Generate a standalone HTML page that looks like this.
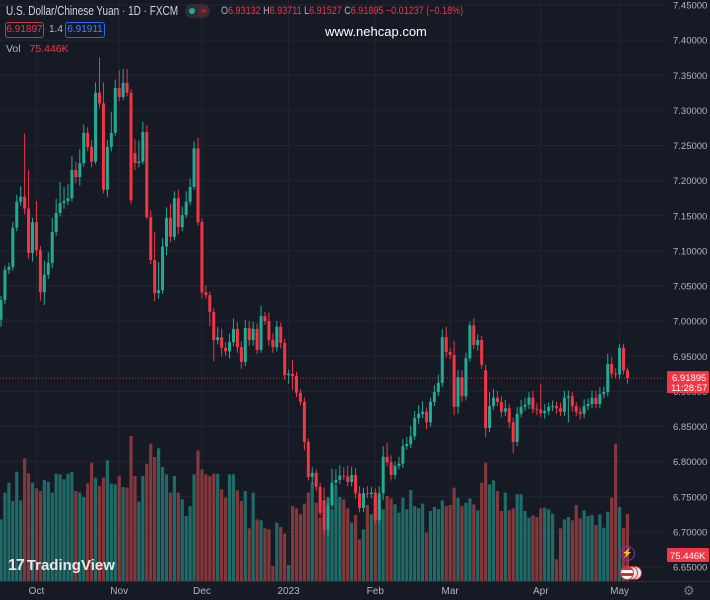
<!DOCTYPE html>
<html><head><meta charset="utf-8"><style>
html,body{margin:0;padding:0;background:#161a25;}
#wrap{position:relative;width:710px;height:600px;overflow:hidden;background:#161a25;font-family:"Liberation Sans",sans-serif;}
svg{position:absolute;left:0;top:0;}
.hdr{position:absolute;white-space:nowrap;}
</style></head><body>
<div id="wrap">
<svg id="chart" width="710" height="600"></svg>
<div class="hdr" style="left:6px;top:4px;font-size:12.5px;color:#d1d4dc;transform:scaleX(0.8);transform-origin:left top;">U.S. Dollar/Chinese Yuan · 1D · FXCM</div>
<div class="hdr" style="left:185px;top:4px;width:25px;height:14px;border-radius:7px;background:#2a2e39;"><span style="position:absolute;left:4px;top:4px;width:6px;height:6px;border-radius:3px;background:#22ab94;"></span><span style="position:absolute;left:13px;top:0;width:11px;height:14px;border-radius:0 7px 7px 0;background:#4a2630;color:#f23645;font-size:9px;line-height:14px;text-align:center;">≈</span></div>
<div class="hdr" style="left:221px;top:5px;font-size:11px;color:#f23645;transform:scaleX(0.82);transform-origin:left top;"><span style="color:#b2b5be">O</span>6.93132 <span style="color:#b2b5be">H</span>6.93711 <span style="color:#b2b5be">L</span>6.91527 <span style="color:#b2b5be">C</span>6.91895 −0.01237 (−0.18%)</div>
<div class="hdr" style="left:5px;top:22px;width:37px;height:14px;border:1px solid #c9363f;border-radius:3px;color:#f23645;font-size:10px;line-height:14px;text-align:center;">6.91897</div>
<div class="hdr" style="left:49px;top:24px;font-size:10px;color:#b2b5be;">1.4</div>
<div class="hdr" style="left:65px;top:22px;width:38px;height:14px;border:1px solid #2962ff;border-radius:3px;color:#4f7dff;font-size:10px;line-height:14px;text-align:center;">6.91911</div>
<div class="hdr" style="left:325px;top:24px;font-size:13px;color:#ffffff;">www.nehcap.com</div>
<div class="hdr" style="left:6px;top:43px;font-size:10.5px;color:#b2b5be;">Vol <span style="color:#f23645;margin-left:6px;">75.446K</span></div>
<div class="hdr" style="left:8px;top:557px;font-size:15px;font-weight:bold;color:#e8e8e8;"><span style="font-size:16px;letter-spacing:-1px;margin-right:3px;">17</span>TradingView</div>
<div class="hdr" style="left:620px;top:546px;width:13px;height:13px;border:1.5px solid #9c27b0;border-radius:8px;color:#b65ce0;font-size:9px;line-height:13px;text-align:center;">⚡</div>
<div class="hdr" style="left:628px;top:566px;width:12px;height:12px;border:1.5px solid #d13a46;border-radius:8px;background:#f3e6e6;"></div>
<div class="hdr" style="left:624px;top:566px;width:12px;height:12px;border:1.5px solid #d13a46;border-radius:8px;background:#f3e6e6;"></div>
<div class="hdr" style="left:620px;top:566px;width:12px;height:12px;border:1.5px solid #d13a46;border-radius:8px;background:linear-gradient(#c33 0 25%,#fff 25% 50%,#c33 50% 75%,#fff 75%);"></div>
<div class="hdr" style="left:683px;top:583px;font-size:13px;color:#787b86;">⚙</div>
</div>
<script>
const opens=[7.002,7.030,7.073,7.077,7.133,7.170,7.177,7.160,7.097,7.141,
7.101,7.041,7.066,7.083,7.127,7.154,7.168,7.171,7.175,7.215,
7.205,7.225,7.268,7.248,7.227,7.325,7.310,7.187,7.248,7.268,
7.332,7.319,7.339,7.325,7.239,7.225,7.227,7.269,7.148,7.087,
7.040,7.044,7.106,7.147,7.120,7.175,7.134,7.151,7.170,7.191,
7.246,7.141,7.041,7.037,7.013,6.973,6.977,6.962,6.957,6.970,
6.989,6.963,6.942,6.990,6.973,6.989,6.959,7.007,7.000,6.973,
6.963,6.992,6.969,6.923,6.925,6.922,6.898,6.885,6.828,6.778,
6.784,6.764,6.745,6.703,6.738,6.770,6.774,6.780,6.779,6.771,
6.781,6.755,6.734,6.755,6.754,6.756,6.717,6.755,6.807,6.799,
6.781,6.794,6.797,6.822,6.825,6.836,6.862,6.868,6.871,6.856,
6.885,6.899,6.912,6.977,6.956,6.952,6.878,6.920,6.893,6.947,
6.994,6.966,6.973,6.930,6.848,6.879,6.891,6.885,6.871,6.876,
6.856,6.828,6.868,6.878,6.881,6.891,6.875,6.874,6.869,6.872,
6.878,6.879,6.876,6.871,6.891,6.893,6.879,6.871,6.868,6.879,
6.882,6.891,6.882,6.896,6.899,6.939,6.925,6.924,6.962,6.930];
const closes=[7.030,7.073,7.077,7.133,7.170,7.177,7.160,7.097,7.141,7.101,
7.041,7.066,7.083,7.127,7.154,7.168,7.171,7.175,7.215,7.205,
7.225,7.268,7.248,7.227,7.325,7.310,7.187,7.248,7.268,7.332,
7.319,7.339,7.325,7.172,7.225,7.227,7.269,7.148,7.087,7.040,
7.044,7.106,7.147,7.120,7.175,7.134,7.151,7.170,7.191,7.246,
7.141,7.041,7.037,7.013,6.973,6.977,6.962,6.957,6.970,6.989,
6.963,6.942,6.990,6.973,6.989,6.959,7.007,7.000,6.973,6.963,
6.992,6.969,6.923,6.925,6.922,6.898,6.885,6.828,6.778,6.784,
6.764,6.727,6.703,6.738,6.770,6.774,6.780,6.779,6.771,6.781,
6.755,6.734,6.755,6.754,6.756,6.717,6.755,6.807,6.799,6.781,
6.794,6.797,6.822,6.825,6.836,6.862,6.868,6.871,6.856,6.885,
6.899,6.912,6.977,6.956,6.952,6.878,6.920,6.893,6.947,6.994,
6.966,6.973,6.938,6.848,6.879,6.891,6.885,6.871,6.876,6.856,
6.828,6.868,6.878,6.881,6.891,6.875,6.874,6.869,6.872,6.878,
6.879,6.876,6.871,6.891,6.893,6.879,6.871,6.868,6.879,6.882,
6.891,6.882,6.896,6.899,6.939,6.925,6.924,6.962,6.930,6.919];
const wickUp=[.006,.006,.006,.008,.01,.015,.09,.055,.006,.03,
.006,.02,.015,.02,.02,.03,.02,.02,.02,.012,
.02,.012,.008,.01,.015,.05,.03,.01,.03,.012,
.025,.02,.02,.005,.02,.03,.015,.01,.01,.04,
.04,.012,.015,.02,.01,.012,.012,.015,.012,.01,
.015,.005,.01,.005,.005,.015,.012,.008,.012,.015,
.01,.008,.012,.01,.01,.008,.015,.006,.012,.01,
.008,.006,.006,.006,.02,.006,.005,.006,.005,.008,
.005,.006,.018,.01,.02,.015,.015,.012,.015,.012,
.01,.01,.008,.01,.008,.006,.01,.015,.02,.01,
.006,.01,.01,.01,.015,.01,.012,.015,.006,.006,
.01,.012,.012,.015,.006,.02,.01,.01,.008,.005,
.01,.008,.006,.008,.02,.012,.01,.008,.012,.006,
.006,.01,.01,.01,.008,.01,.008,.037,.01,.006,
.008,.006,.008,.01,.008,.006,.006,.006,.01,.008,
.01,.01,.01,.008,.015,.01,.008,.005,.006,.004];
const wickDn=[.01,.006,.006,.005,.005,.006,.008,.008,.012,.008,
.012,.018,.006,.008,.006,.005,.008,.006,.005,.008,
.012,.005,.006,.008,.004,.006,.005,.01,.006,.004,
.006,.004,.005,.005,.01,.006,.004,.003,.006,.012,
.008,.005,.012,.008,.005,.01,.006,.004,.005,.004,
.005,.008,.005,.02,.03,.006,.012,.006,.01,.006,
.008,.01,.006,.008,.008,.006,.004,.005,.008,.008,
.006,.008,.006,.012,.02,.006,.005,.012,.005,.01,
.006,.005,.008,.01,.005,.006,.006,.005,.006,.006,
.008,.006,.006,.006,.006,.006,.005,.01,.006,.008,
.006,.005,.006,.005,.006,.005,.008,.006,.01,.006,
.006,.006,.006,.008,.006,.012,.01,.008,.006,.004,
.006,.008,.006,.013,.006,.005,.006,.008,.006,.008,
.016,.006,.005,.006,.006,.006,.008,.006,.008,.006,
.006,.008,.006,.006,.035,.008,.006,.008,.006,.006,
.006,.006,.006,.006,.006,.006,.006,.006,.006,.008];
const volumes=[69.4,99.5,110.7,90.1,123.1,90.8,138.1,121.2,110.7,104.3,
101.3,113.7,111.5,99.5,120.8,120.1,114.5,120.8,123.1,101.3,
99.5,94.6,110.0,133.2,116.3,107.0,116.3,135.9,109.6,108.8,
118.2,105.8,105.1,163.3,118.2,89.3,118.2,132.1,154.6,139.6,
149.4,128.4,120.1,99.5,118.2,99.5,91.9,73.2,84.4,120.1,
147.1,125.7,120.1,118.2,120.8,120.8,103.2,93.8,120.1,120.1,
102.1,90.1,101.3,59.3,99.5,69.4,68.3,59.3,58.2,16.9,
65.7,60.8,53.3,18.0,84.4,81.8,75.1,87.1,99.5,110.7,
88.2,71.3,58.2,94.6,80.7,107.0,94.6,91.9,81.8,65.7,
74.3,46.9,58.2,85.6,75.1,95.7,90.1,80.7,95.7,93.1,
86.3,76.9,93.8,80.7,102.5,84.4,81.8,87.1,54.4,78.8,
83.3,80.7,90.8,84.4,85.6,105.1,93.8,84.4,88.2,93.1,
86.3,79.6,110.7,133.2,108.8,113.3,101.3,78.8,99.5,79.6,
81.8,97.6,97.6,78.8,71.3,73.9,72.1,81.8,82.6,80.7,
75.8,24.4,59.3,69.4,72.1,68.3,85.6,70.6,79.6,73.2,
74.3,63.1,75.1,60.0,78.1,93.8,154.6,83.3,60.0,75.446];
const priceTicks=[7.45,7.40,7.35,7.30,7.25,7.20,7.15,7.10,7.05,7.00,6.95,6.90,6.85,6.80,6.75,6.70,6.65];
const monthLabels=["Oct","Nov","Dec","2023","Feb","Mar","Apr","May"];
const monthIndex=[9,30,51,73,95,114,137,157];
const lastPrice=6.91895;

const NS="http://www.w3.org/2000/svg";
const svg=document.getElementById('chart');
const PLOT_W=664, AXIS_Y=581;
function yP(p){return 5+(7.45-p)*702.5;}
function xI(i){return 1+i*3.94;}
function yV(v){return AXIS_Y-v/1.126;}
function mk(tag,attrs,parent){const e=document.createElementNS(NS,tag);for(const k in attrs)e.setAttribute(k,attrs[k]);(parent||svg).appendChild(e);return e;}

const grid=mk('g',{});


priceTicks.forEach(p=>{const l=mk('line',{x1:0,x2:PLOT_W,y1:yP(p),y2:yP(p),stroke:'#232632','stroke-width':1},grid);

});
monthIndex.forEach(i=>{const l=mk('line',{x1:xI(i),x2:xI(i),y1:0,y2:AXIS_Y,stroke:'#232632','stroke-width':1},grid);

});

const vg=mk('g',{});


volumes.forEach((v,i)=>{const up=closes[i]>=opens[i];
const r=mk('rect',{x:xI(i)-1.6,width:3.2,y:yV(v),height:AXIS_Y-yV(v),fill:up?'#1f6b68':'#84383c'},vg);

});

const cg=mk('g',{});


closes.forEach((c,i)=>{const o=opens[i];const up=c>=o;const col=up?'#22ab94':'#f23645';
const hi=Math.max(o,c)+wickUp[i], lo=Math.min(o,c)-wickDn[i];
const x=xI(i);
const w=mk('line',{x1:x,x2:x,y1:yP(hi),y2:yP(lo),stroke:col,'stroke-width':1},cg);


const top=yP(Math.max(o,c)),bot=yP(Math.min(o,c));
const b=mk('rect',{x:x-1.5,width:3,y:top,height:Math.max(1,bot-top),fill:col},cg);

});

const pl=mk('line',{x1:0,x2:PLOT_W,y1:yP(lastPrice),y2:yP(lastPrice),stroke:'#f23645','stroke-width':1,'stroke-dasharray':'1,2','opacity':0.8});



const ax=mk('g',{'font-family':'Liberation Sans, sans-serif','font-size':'9.5','fill':'#b2b5be'});


priceTicks.forEach(p=>{const t=mk('text',{x:673,y:yP(p)+3.5},ax);t.textContent=p.toFixed(5);

});
const plb=mk('rect',{x:667,y:yP(lastPrice)-7,width:42,height:22,fill:'#f23645',rx:1});


const plt=mk('text',{x:672,y:yP(lastPrice)+3,'font-size':'9.5','fill':'#fff','font-family':'Liberation Sans, sans-serif'});plt.textContent=lastPrice.toFixed(5);


const cdt=mk('text',{x:671,y:yP(lastPrice)+13,'font-size':'9.5','fill':'#fff','font-family':'Liberation Sans, sans-serif'});cdt.textContent='11:28:57';


const vlv=volumes[volumes.length-1];
const vb=mk('rect',{x:667,y:yV(vlv)+34,width:42,height:14,fill:'#f23645',rx:1});


const vt=mk('text',{x:670,y:yV(vlv)+45,'font-size':'9.5','fill':'#fff','font-family':'Liberation Sans, sans-serif'});vt.textContent=vlv.toFixed(3)+'K';



const tb=mk('line',{x1:0,x2:710,y1:AXIS_Y+0.5,y2:AXIS_Y+0.5,stroke:'#2a2e39','stroke-width':1});


const tg=mk('g',{'font-family':'Liberation Sans, sans-serif','font-size':'10','fill':'#b2b5be','text-anchor':'middle'});


monthLabels.forEach((m,k)=>{const t=mk('text',{x:xI(monthIndex[k]),y:594},tg);t.textContent=m;

});
</script>
</body></html>
